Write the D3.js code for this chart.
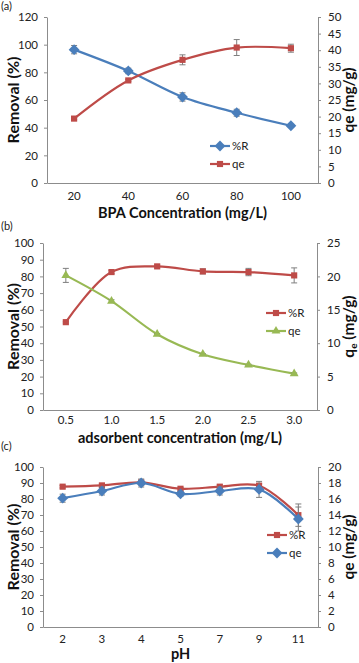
<!DOCTYPE html>
<html>
<head>
<meta charset="utf-8">
<script src="https://cdn.jsdelivr.net/npm/d3@7"></script>
<style>
  html, body { margin: 0; padding: 0; background: #fff; }
  svg { display: block; font-family: Lato, "Open Sans", sans-serif; }
</style>
</head>
<body>
<svg id="chart" width="359" height="663"></svg>
<script>
// Pannello (a): concentrazione BPA
const bpaConc = ["20", "40", "60", "80", "100"];
const bpaRemoval = [96.4, 81, 62.2, 50.8, 41.4];
const bpaRemovalErr = [3, 2, 3, 2.5, 1];
const bpaQe = [19.4, 30.9, 37.1, 40.8, 40.6];
const bpaQeErr = [0.3, 0.3, 1.5, 2.4, 1.2];

// Pannello (b): concentrazione adsorbente
const adsConc = ["0.5", "1.0", "1.5", "2.0", "2.5", "3.0"];
const adsRemoval = [52.6, 82.6, 86, 83, 82.6, 80.6];
const adsRemovalErr = [0.5, 1, 0.8, 1.5, 2.2, 4.5];
const adsQe = [20.15, 16.3, 11.35, 8.35, 6.75, 5.45];
const adsQeErr = [1.05, 0.2, 0.1, 0.1, 0.1, 0.1];

// Pannello (c): pH
const phVals = ["2", "3", "4", "5", "7", "9", "11"];
const phRemoval = [87.7, 88.5, 90.4, 86.4, 87.7, 88.3, 69.9];
const phRemovalErr = [0.8, 1, 1, 0.8, 1, 1.5, 7];
const phQe = [16.1, 17, 18, 16.65, 17, 17.2, 13.5];
const phQeErr = [0.5, 0.5, 0.5, 0.3, 0.5, 1, 1.5];

const BLUE = "#4a7ebb", RED = "#be4b48", GREEN = "#98b954";
const AXIS = "#8c8c8c";

const panels = [
  {
    label: "(a)", cats: bpaConc,
    plot: { x0: 47, x1: 318, y0: 17, y1: 183 },
    left: { domain: [0, 120], ticks: d3.range(0, 121, 20) },
    right: { domain: [0, 50], ticks: d3.range(0, 51, 5) },
    xTitle: "BPA Concentration (mg/L)", xTitleY: 218, xLabY: 200,
    rightTitle: "qe (mg/g)",
    series: [
      { name: "%R", vals: bpaRemoval, err: bpaRemovalErr, axis: "left", color: BLUE, marker: "diamond" },
      { name: "qe", vals: bpaQe, err: bpaQeErr, axis: "right", color: RED, marker: "square" }
    ],
    legend: { x: 210, y: 146 }
  },
  {
    label: "(b)", cats: adsConc,
    plot: { x0: 43, x1: 317, y0: 243, y1: 410 },
    left: { domain: [0, 100], ticks: d3.range(0, 101, 10) },
    right: { domain: [0, 25], ticks: d3.range(0, 26, 5) },
    xTitle: "adsorbent concentration (mg/L)", xTitleY: 443, xLabY: 424,
    rightTitle: "qe (mg/g)", subE: true,
    series: [
      { name: "%R", vals: adsRemoval, err: adsRemovalErr, axis: "left", color: RED, marker: "square" },
      { name: "qe", vals: adsQe, err: adsQeErr, axis: "right", color: GREEN, marker: "triangle" }
    ],
    legend: { x: 266, y: 313 }
  },
  {
    label: "(c)", cats: phVals,
    plot: { x0: 43, x1: 318, y0: 467, y1: 627 },
    left: { domain: [0, 100], ticks: d3.range(0, 101, 10) },
    right: { domain: [0, 20], ticks: d3.range(0, 21, 2) },
    xTitle: "pH", xTitleY: 659, xLabY: 643,
    rightTitle: "qe (mg/g)",
    series: [
      { name: "%R", vals: phRemoval, err: phRemovalErr, axis: "left", color: RED, marker: "square" },
      { name: "qe", vals: phQe, err: phQeErr, axis: "right", color: BLUE, marker: "diamond" }
    ],
    legend: { x: 267, y: 535 }
  }
];

const panelLabelY = [10, 230, 450];

const svg = d3.select("#chart");

function markerPath(type, size) {
  const sym = type === "diamond" ? d3.symbolDiamond2 || d3.symbolDiamond
            : type === "triangle" ? d3.symbolTriangle : d3.symbolSquare;
  return d3.symbol().type(sym).size(size)();
}
const markerSize = { diamond: 75, square: 38, triangle: 34 };

panels.forEach((p, pi) => {
  const g = svg.append("g");
  const { x0, x1, y0, y1 } = p.plot;

  const x = d3.scaleBand().domain(p.cats).range([x0, x1]);
  const yL = d3.scaleLinear().domain(p.left.domain).range([y1, y0]);
  const yR = d3.scaleLinear().domain(p.right.domain).range([y1, y0]);

  // Etichetta pannello
  g.append("text").attr("x", 1).attr("y", panelLabelY[pi])
    .text(p.label).style("font-size", "11px").attr("fill", "#222");

  // Asse sinistro
  const axL = g.append("g").attr("transform", `translate(${x0},0)`)
    .call(d3.axisLeft(yL).tickValues(p.left.ticks).tickSize(3).tickPadding(6).tickSizeOuter(0));
  // Asse destro
  const axR = g.append("g").attr("transform", `translate(${x1},0)`)
    .call(d3.axisRight(yR).tickValues(p.right.ticks).tickSize(3).tickPadding(7).tickSizeOuter(0));
  // Asse X
  const axX = g.append("g").attr("transform", `translate(0,${y1})`)
    .call(d3.axisBottom(x).tickSize(0).tickPadding(0).tickSizeOuter(0));
  axX.selectAll("text").attr("y", p.xLabY - y1).attr("dy", 0);

  [axL, axR, axX].forEach(a => {
    a.select(".domain").attr("stroke", AXIS);
    a.selectAll("line").attr("stroke", AXIS);
    a.selectAll("text").attr("fill", "#222").style("font-size", "11.5px")
      .style("font-family", "Lato, 'Open Sans', sans-serif");
  });

  // Titoli assi
  g.append("text")
    .attr("transform", `translate(${13},${(y0 + y1) / 2}) rotate(-90)`)
    .attr("text-anchor", "middle").attr("dy", "0.35em")
    .style("font-size", "16px").style("font-weight", "bold").attr("fill", "#111")
    .text("Removal (%)");

  const rt = g.append("text")
    .attr("transform", `translate(${349},${(y0 + y1) / 2}) rotate(-90)`)
    .attr("text-anchor", "middle").attr("dy", "0.35em")
    .style("font-size", "15.5px").style("font-weight", "bold").attr("fill", "#111");
  if (p.subE) {
    rt.append("tspan").text("q");
    rt.append("tspan").text("e").style("font-size", "10px").attr("dy", "3");
    rt.append("tspan").text(" (mg/g)").attr("dy", "-3");
  } else {
    rt.text(p.rightTitle);
  }

  g.append("text").attr("x", (x0 + x1) / 2).attr("y", p.xTitleY)
    .attr("text-anchor", "middle")
    .style("font-size", "14.5px").style("font-weight", "bold").attr("fill", "#111")
    .text(p.xTitle);

  // Serie
  p.series.forEach(s => {
    const y = s.axis === "left" ? yL : yR;
    const cx = (d, i) => x(p.cats[i]) + x.bandwidth() / 2;

    const line = d3.line()
      .x((d, i) => cx(d, i))
      .y(d => y(d))
      .curve(d3.curveCatmullRom.alpha(0.5));

    g.append("path").datum(s.vals)
      .attr("d", line).attr("fill", "none")
      .attr("stroke", s.color).attr("stroke-width", 2.2);

    // Barre d'errore
    const eb = g.append("g").attr("stroke", "#7f7f7f").attr("stroke-width", 1);
    s.vals.forEach((v, i) => {
      const xx = cx(v, i);
      const ya = y(v + s.err[i]), yb = y(v - s.err[i]);
      eb.append("line").attr("x1", xx).attr("x2", xx).attr("y1", ya).attr("y2", yb);
      eb.append("line").attr("x1", xx - 3).attr("x2", xx + 3).attr("y1", ya).attr("y2", ya);
      eb.append("line").attr("x1", xx - 3).attr("x2", xx + 3).attr("y1", yb).attr("y2", yb);
    });

    g.selectAll(null).data(s.vals).enter().append("path")
      .attr("d", markerPath(s.marker, markerSize[s.marker]))
      .attr("transform", (d, i) => `translate(${cx(d, i)},${y(d)})`)
      .attr("fill", s.color);
  });

  // Legenda
  p.series.forEach((s, i) => {
    const ly = p.legend.y + i * 18;
    const lx = p.legend.x;
    g.append("line").attr("x1", lx).attr("x2", lx + 20).attr("y1", ly).attr("y2", ly)
      .attr("stroke", s.color).attr("stroke-width", 2.2);
    g.append("path").attr("d", markerPath(s.marker, markerSize[s.marker]))
      .attr("transform", `translate(${lx + 10},${ly})`).attr("fill", s.color);
    g.append("text").attr("x", lx + 22).attr("y", ly).attr("dy", "0.35em")
      .style("font-size", "11.5px").attr("fill", "#222").text(s.name);
  });
});
</script>
</body>
</html>
